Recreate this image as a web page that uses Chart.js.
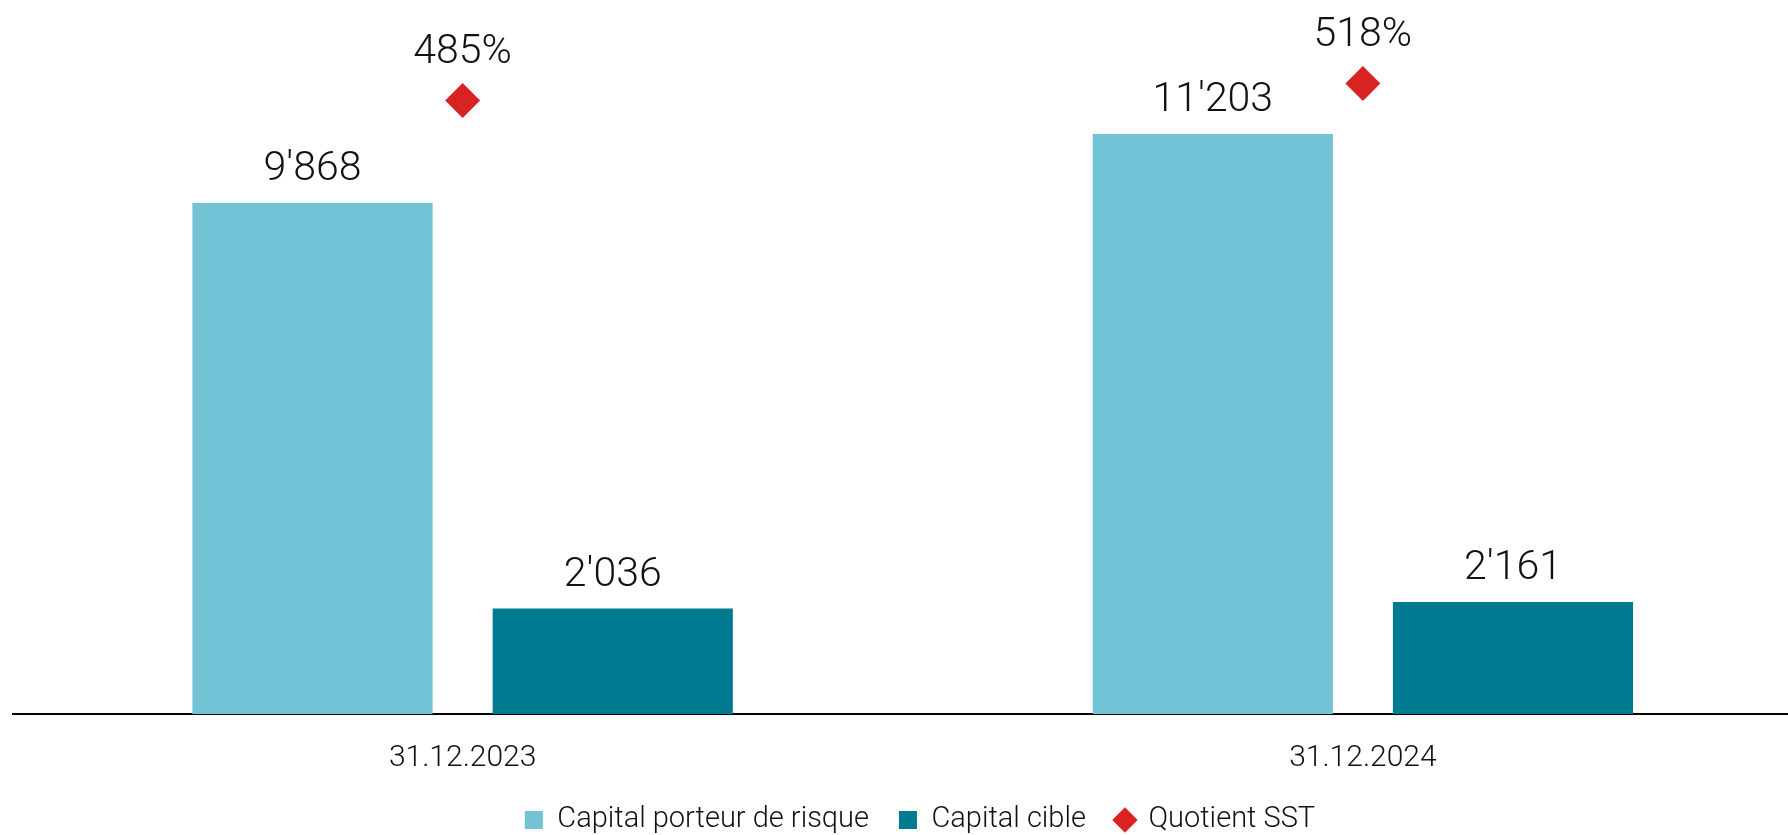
<!DOCTYPE html>
<html>
<head>
<meta charset="utf-8">
<script src="https://cdn.jsdelivr.net/npm/chart.js@4.4.1/dist/chart.umd.min.js"></script>
<style>
  html, body { margin: 0; padding: 0; background: #fff; overflow: hidden; }
  #wrap { width: 1813px; height: 835px; }
</style>
</head>
<body>
<div id="wrap"><canvas id="sst_chart" width="1813" height="835"></canvas></div>
<script>
const categories = ['31.12.2023', '31.12.2024'];
const riskBearingCapital = [9868, 11203];
const targetCapital = [2036, 2161];
const sstRatio = [485, 518];
const seriesNames = ['Capital porteur de risque', 'Capital cible', 'Quotient SST'];

const FONT = "Roboto, 'Open Sans', sans-serif";
const LEGEND_PAD = 30;
const LEGEND_FONT = 29;

// 9868 -> 9'868
function formatSwiss(v) {
    return String(v).replace(/\B(?=(\d{3})+(?!\d))/g, "'");
}

const valueLabels = {
    id: 'valueLabels',
    afterDatasetsDraw(chart) {
        const ctx = chart.ctx;
        ctx.save();
        ctx.fillStyle = '#111';
        ctx.font = '300 41px ' + FONT;
        ctx.textAlign = 'center';
        ctx.textBaseline = 'alphabetic';
        chart.data.datasets.forEach((ds, i) => {
            const meta = chart.getDatasetMeta(i);
            meta.data.forEach((el, j) => {
                if (meta.type === 'bar')
                    ctx.fillText(formatSwiss(ds.data[j]), el.x, el.y - 23);
                else
                    ctx.fillText(ds.data[j] + '%', el.x, el.y - 37);
            });
        });
        ctx.restore();
    }
};

// x axis takes the whole strip under the plot, legend is laid over its lower part
const legendPlacement = {
    id: 'legendPlacement',
    beforeInit(chart) {
        const fit = chart.legend.fit;
        chart.legend.fit = function () {
            fit.call(this);
            this.height = 0;
        };
    },
    afterLayout(chart) {
        const legend = chart.legend;
        legend.top = 820 - LEGEND_PAD - LEGEND_FONT / 2;
        legend.bottom = chart.height;
        legend.height = legend.bottom - legend.top;
        legend.left = 27;
        legend.right = chart.width;
        legend.width = legend.right - legend.left;
    }
};

const config = {
    type: 'bar',
    data: {
        labels: categories,
        datasets: [{
            label: seriesNames[0],
            data: riskBearingCapital,
            backgroundColor: '#71C3D5',
            pointStyle: 'rect',
            categoryPercentage: 0.667,
            barPercentage: 0.8,
            yAxisID: 'y'
        }, {
            label: seriesNames[1],
            data: targetCapital,
            backgroundColor: '#007A91',
            pointStyle: 'rect',
            categoryPercentage: 0.667,
            barPercentage: 0.8,
            yAxisID: 'y'
        }, {
            type: 'line',
            label: seriesNames[2],
            data: sstRatio,
            yAxisID: 'y2',
            showLine: false,
            pointStyle: 'rectRot',
            pointRadius: 17.5,
            pointHoverRadius: 17.5,
            backgroundColor: '#D92323',
            borderColor: '#D92323',
            borderWidth: 0,
            pointBorderWidth: 0
        }]
    },
    options: {
        responsive: false,
        animation: false,
        layout: {
            autoPadding: false,
            padding: { left: 12.5, right: 0, top: 0, bottom: 0 }
        },
        plugins: {
            legend: {
                position: 'bottom',
                labels: {
                    usePointStyle: true,
                    boxWidth: 18,
                    boxHeight: 18,
                    padding: LEGEND_PAD,
                    color: '#111',
                    font: { family: FONT, size: LEGEND_FONT, weight: 300 }
                }
            },
            tooltip: { enabled: false }
        },
        scales: {
            x: {
                grid: { display: false, drawTicks: false },
                border: { display: true, color: '#000', width: 2 },
                ticks: {
                    color: '#111',
                    padding: 26,
                    font: { family: FONT, size: 30, weight: 300 }
                },
                afterFit(scale) {
                    scale.height = 121;
                }
            },
            y: { display: false, min: 0, max: 13790 },
            y2: { display: false, min: -707, max: 680 }
        }
    },
    plugins: [valueLabels, legendPlacement]
};

const chart = new Chart(document.getElementById('sst_chart'), config);
</script>
</body>
</html>
